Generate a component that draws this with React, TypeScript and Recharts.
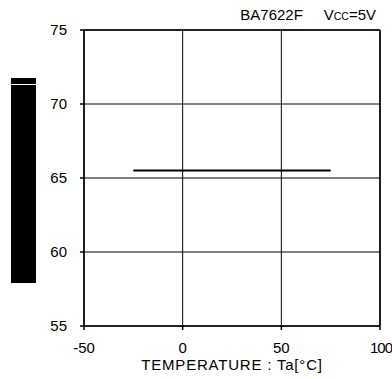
import React from 'react';
import { LineChart, Line, XAxis, YAxis, CartesianGrid, ReferenceLine } from 'recharts';

const temps = [-25, 75];
const values = [65.5, 65.5];
const xTicks = [-50, 0, 50, 100];
const yTicks = [55, 60, 65, 70, 75];

const data = temps.map((t, i) => ({ t, v: values[i] }));

const font = '"Liberation Sans", Arial, sans-serif';

const XTick = (props: any) => {
  const { x, y, payload } = props;
  const last = payload.value === 100;
  return (
    <text
      x={last ? x + 1 : x}
      y={y}
      dy="0.71em"
      textAnchor="middle"
      fill="#000"
      fontSize={15}
      fontFamily={font}
      style={{ letterSpacing: last ? -1 : 0 }}
    >
      {payload.value}
    </text>
  );
};

export default function App() {
  return (
    <div style={{ position: 'relative', width: 392, height: 379, fontFamily: font, background: '#fff', overflow: 'hidden' }}>
      <style>{'html,body{margin:0;padding:0;}'}</style>
      <LineChart width={392} height={379} data={data} margin={{ top: 30, right: 12, left: 44, bottom: 13 }}>
        <CartesianGrid stroke="#000" strokeWidth={1} />
        <XAxis
          type="number"
          dataKey="t"
          domain={[-50, 100]}
          ticks={xTicks}
          height={40}
          tickSize={4}
          tickMargin={12}
          stroke="#000"
          strokeWidth={1.5}
          tick={<XTick />}
          interval={0}
        />
        <YAxis
          type="number"
          domain={[55, 75]}
          ticks={yTicks}
          width={40}
          tickSize={4}
          tickMargin={13}
          stroke="#000"
          strokeWidth={1.5}
          tick={{ fill: '#000', fontSize: 15, fontFamily: font }}
          interval={0}
        />
        <ReferenceLine y={75} stroke="#000" strokeWidth={1.5} />
        <ReferenceLine x={100} stroke="#000" strokeWidth={1.5} />
        <Line type="linear" dataKey="v" stroke="#000" strokeWidth={2} dot={false} isAnimationActive={false} />
      </LineChart>
      <div style={{ position: 'absolute', left: 11, top: 78, width: 25, height: 6, background: '#000' }} />
      <div style={{ position: 'absolute', left: 11, top: 85, width: 25, height: 198, background: '#000' }} />
      <div style={{ position: 'absolute', right: 16, top: 7, fontSize: 15, lineHeight: '15px', color: '#000', whiteSpace: 'pre' }}>
        {'BA7622F     V'}<span style={{ fontSize: 10.5 }}>CC</span>{'=5V'}
      </div>
      <div style={{ position: 'absolute', left: 92, width: 280, textAlign: 'center', top: 357, fontSize: 15, lineHeight: '15px', letterSpacing: 0.8, color: '#000', whiteSpace: 'pre' }}>
        TEMPERATURE : Ta[°C]
      </div>
    </div>
  );
}
